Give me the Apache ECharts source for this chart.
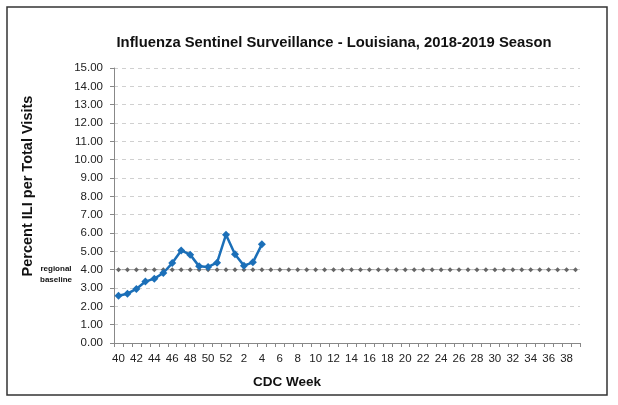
<!DOCTYPE html>
<html lang="en">
<head>
    <meta charset="UTF-8">
    <title>Influenza Sentinel Surveillance - Louisiana</title>
    <script src="https://cdn.jsdelivr.net/npm/echarts@6.0.0/dist/echarts.min.js"></script>
    <style>
        html, body { margin: 0; padding: 0; background: #fff; }
        #main { width: 618px; height: 405px; }
    </style>
</head>
<body>
    <div id="main"></div>
    <script type="text/javascript">
        // CDC weeks 40..52, then 1..39
        const weeks = [40, 41, 42, 43, 44, 45, 46, 47, 48, 49, 50, 51, 52,
            1, 2, 3, 4, 5, 6, 7, 8, 9, 10, 11, 12, 13, 14, 15, 16, 17, 18, 19, 20,
            21, 22, 23, 24, 25, 26, 27, 28, 29, 30, 31, 32, 33, 34, 35, 36, 37, 38, 39];
        // % ILI, weeks 40 to 4
        const iliValues = [2.58, 2.69, 2.95, 3.35, 3.51, 3.82, 4.36, 5.05, 4.82, 4.18,
            4.15, 4.38, 5.91, 4.84, 4.22, 4.40, 5.38];
        const baselineValue = 4.0;
        const baseline = weeks.map(() => baselineValue);

        const grafico = echarts.init(document.getElementById('main'));
        const font = 'Liberation Sans';
        const option = {
            animation: false,
            textStyle: { fontFamily: font },
            grid: { left: 114, right: 38, top: 68, bottom: 62 },
            xAxis: {
                type: 'category',
                data: weeks.map(String),
                boundaryGap: true,
                axisLine: { lineStyle: { color: '#888', width: 1 } },
                axisTick: { show: true, interval: 0, length: 4, lineStyle: { color: '#888' } },
                axisLabel: { interval: 1, color: '#222', fontSize: 11.5, margin: 10 },
                splitLine: { show: false }
            },
            yAxis: {
                type: 'value',
                min: 0,
                max: 15,
                interval: 1,
                axisLine: { show: true, lineStyle: { color: '#888', width: 1 } },
                axisTick: { show: true, length: 4, lineStyle: { color: '#888' } },
                axisLabel: {
                    color: '#222', fontSize: 11.5, margin: 11,
                    formatter: (v) => v.toFixed(2)
                },
                splitLine: { lineStyle: { color: '#d0d0d0', type: [4, 4], width: 1 } }
            },
            series: [
                {
                    name: 'regional baseline',
                    type: 'line',
                    data: baseline,
                    showAllSymbol: true,
                    symbol: 'diamond',
                    symbolSize: 5,
                    lineStyle: { color: '#777', width: 1, type: 'dotted' },
                    itemStyle: { color: '#666' },
                    z: 2
                },
                {
                    name: '% ILI',
                    type: 'line',
                    data: iliValues,
                    showAllSymbol: true,
                    symbol: 'diamond',
                    symbolSize: 8,
                    lineStyle: { color: '#1b6fb8', width: 2.5 },
                    itemStyle: { color: '#1b6fb8' },
                    z: 3
                }
            ],
            graphic: [
                {
                    type: 'rect',
                    shape: { x: 7, y: 7, width: 600, height: 388 },
                    style: { fill: 'none', stroke: '#333', lineWidth: 1.5 }
                },
                {
                    type: 'text',
                    x: 334, y: 43,
                    style: {
                        text: 'Influenza Sentinel Surveillance - Louisiana, 2018-2019 Season',
                        font: 'bold 14.8px "' + font + '"',
                        fill: '#111', align: 'center', verticalAlign: 'middle'
                    }
                },
                {
                    type: 'text',
                    x: 28, y: 186,
                    rotation: Math.PI / 2,
                    style: {
                        text: 'Percent ILI per Total Visits',
                        font: 'bold 14.5px "' + font + '"',
                        fill: '#111', align: 'center', verticalAlign: 'middle'
                    }
                },
                {
                    type: 'text',
                    x: 287, y: 382,
                    style: {
                        text: 'CDC Week',
                        font: 'bold 13.5px "' + font + '"',
                        fill: '#111', align: 'center', verticalAlign: 'middle'
                    }
                },
                {
                    type: 'text',
                    x: 56, y: 274,
                    style: {
                        text: 'regional\nbaseline',
                        font: 'bold 8px "' + font + '"',
                        lineHeight: 11,
                        fill: '#111', align: 'center', verticalAlign: 'middle'
                    }
                }
            ]
        };
        grafico.setOption(option);
    </script>
</body>
</html>
